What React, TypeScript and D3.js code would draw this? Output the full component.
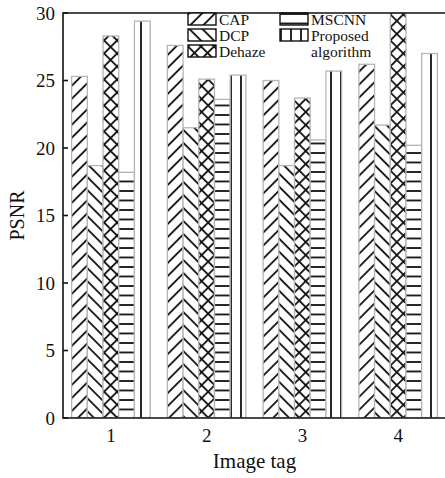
import React, { useEffect, useRef } from "react";
import * as d3 from "d3";

const categories = ["1", "2", "3", "4"];
const series = ["CAP", "DCP", "Dehaze", "MSCNN", "Proposed algorithm"];
const capValues = [25.3, 27.6, 25.0, 26.2];
const dcpValues = [18.7, 21.5, 18.7, 21.7];
const dehazeValues = [28.3, 25.1, 23.7, 30.0];
const mscnnValues = [18.2, 23.6, 20.6, 20.2];
const proposedValues = [29.4, 25.4, 25.7, 27.0];
const yTicks = [0, 5, 10, 15, 20, 25, 30];

const W = 445;
const H = 478;
const margin = { top: 13, right: 0, bottom: 60, left: 63 };
const FONT = "'Liberation Serif', 'DejaVu Serif', serif";

const App: React.FC = () => {
  const svgRef = useRef<SVGSVGElement>(null);

  useEffect(() => {
    if (!svgRef.current) return;
    const svg = d3.select(svgRef.current);
    svg.selectAll("*").remove();

    const values = [capValues, dcpValues, dehazeValues, mscnnValues, proposedValues];
    const x0 = margin.left;
    const x1 = W + 1;
    const yTop = margin.top;
    const yBot = H - margin.bottom;

    const x = d3.scaleBand<string>().domain(categories).range([x0, x1]).paddingInner(0.18).paddingOuter(0.09);
    const xs = d3.scaleBand<string>().domain(series).range([0, x.bandwidth()]);
    const y = d3.scaleLinear().domain([0, 30]).range([yBot, yTop]);

    // hatch patterns
    const defs = svg.append("defs");
    const lines = (id: string, size: number, rot: number, horizontal = false) => {
      const p = defs.append("pattern")
        .attr("id", id)
        .attr("patternUnits", "userSpaceOnUse")
        .attr("width", size)
        .attr("height", size)
        .attr("patternTransform", `rotate(${rot})`);
      p.append("rect").attr("width", size).attr("height", size).attr("fill", "#fff");
      if (horizontal) {
        p.append("line").attr("x1", 0).attr("x2", size).attr("y1", 1).attr("y2", 1)
          .attr("stroke", "#111").attr("stroke-width", 1.8);
      } else {
        p.append("line").attr("x1", 1).attr("x2", 1).attr("y1", 0).attr("y2", size)
          .attr("stroke", "#111").attr("stroke-width", 1.8);
      }
      return p;
    };
    lines("p-cap", 9.2, 45);
    lines("p-dcp", 9.2, -45);
    const cross = lines("p-dehaze", 9.2, 45);
    cross.append("line").attr("x1", 0).attr("x2", 9.2).attr("y1", 1).attr("y2", 1)
      .attr("stroke", "#111").attr("stroke-width", 1.8);
    lines("p-mscnn", 9.5, 0, true);
    lines("p-proposed", 10, 0);
    const patIds = ["p-cap", "p-dcp", "p-dehaze", "p-mscnn", "p-proposed"];

    svg.append("clipPath").attr("id", "plot-clip")
      .append("rect").attr("x", x0).attr("y", yTop - 1).attr("width", x1 - x0).attr("height", yBot - yTop + 1);

    const bars = svg.append("g").attr("clip-path", "url(#plot-clip)");
    series.forEach((s, si) => {
      bars.selectAll(`.bar-${si}`)
        .data(values[si])
        .enter()
        .append("rect")
        .attr("class", `bar-${si}`)
        .attr("x", (_, i) => (x(categories[i]) as number) + (xs(s) as number))
        .attr("y", d => y(d))
        .attr("width", xs.bandwidth())
        .attr("height", d => yBot - y(d))
        .attr("fill", `url(#${patIds[si]})`)
        .attr("stroke", "#b5b5b5")
        .attr("stroke-width", 1.3);
    });

    // axes
    const axes = svg.append("g").attr("stroke", "#111").attr("stroke-width", 1.6).attr("fill", "none");
    axes.append("path").attr("d", `M${x1},${yTop}H${x0}V${yBot}H${x1}`);
    axes.selectAll(".ytick")
      .data(yTicks)
      .enter()
      .append("line")
      .attr("x1", x0).attr("x2", x0 + 5)
      .attr("y1", d => y(d)).attr("y2", d => y(d));

    svg.append("g")
      .selectAll("text")
      .data(yTicks)
      .enter()
      .append("text")
      .attr("x", x0 - 8)
      .attr("y", d => y(d))
      .attr("dy", "0.36em")
      .attr("text-anchor", "end")
      .attr("font-family", FONT)
      .attr("font-size", 19)
      .attr("fill", "#111")
      .text(d => d);

    svg.append("g")
      .selectAll("text")
      .data(categories)
      .enter()
      .append("text")
      .attr("x", d => (x(d) as number) + x.bandwidth() / 2)
      .attr("y", yBot + 24)
      .attr("text-anchor", "middle")
      .attr("font-family", FONT)
      .attr("font-size", 19)
      .attr("fill", "#111")
      .text(d => d);

    svg.append("text")
      .attr("x", (x0 + x1) / 2)
      .attr("y", H - 10)
      .attr("text-anchor", "middle")
      .attr("font-family", FONT)
      .attr("font-size", 21)
      .attr("fill", "#111")
      .text("Image tag");

    svg.append("text")
      .attr("transform", `translate(24,${(yTop + yBot) / 2}) rotate(-90)`)
      .attr("text-anchor", "middle")
      .attr("font-family", FONT)
      .attr("font-size", 20)
      .attr("fill", "#111")
      .text("PSNR");

    // legend
    const legend = svg.append("g");
    const rowH = 16;
    const legendPos = [
      { x: 188, row: 0 },
      { x: 188, row: 1 },
      { x: 188, row: 2 },
      { x: 280, row: 0 },
      { x: 280, row: 1 },
    ];
    series.forEach((s, si) => {
      const pos = legendPos[si];
      const g = legend.append("g").attr("transform", `translate(${pos.x},${13 + pos.row * rowH})`);
      g.append("rect")
        .attr("width", 28).attr("height", 12)
        .attr("fill", `url(#${patIds[si]})`)
        .attr("stroke", "#111").attr("stroke-width", 1.4);
      const t = g.append("text")
        .attr("x", 31)
        .attr("y", 11.5)
        .attr("font-family", FONT)
        .attr("font-size", 15.5)
        .attr("fill", "#111");
      const words = s.split(" ");
      t.append("tspan").text(words[0]);
      if (words.length > 1) {
        t.append("tspan").attr("x", 31).attr("dy", rowH).text(words.slice(1).join(" "));
      }
    });
  }, []);

  return (
    <svg
      ref={svgRef}
      width={W}
      height={H}
      style={{ position: "absolute", left: 0, top: 0, background: "#fff" }}
    />
  );
};

export default App;
